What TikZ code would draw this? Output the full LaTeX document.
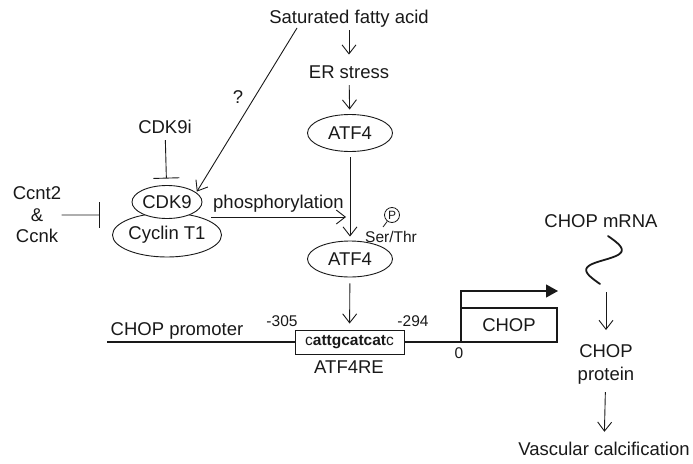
\documentclass[tikz,border=0pt]{standalone}
\usepackage{fontspec}
\setmainfont{Liberation Sans}
\usetikzlibrary{arrows.meta,shapes.geometric}
\tikzset{
    txt/.style={inner sep=0pt, font=\fontsize{18.5}{21.5}\selectfont},
    lbl/.style={txt, text height=13.5pt, text depth=0pt},
    small/.style={inner sep=0pt, font=\fontsize{15.5}{18}\selectfont},
    prot/.style={ellipse, draw, fill=white, inner sep=0pt, font=\fontsize{18.5}{21.5}\selectfont},
    arr/.style={-{Straight Barb[length=9pt,width=14pt,line width=0.9pt]}},
    inhib/.style={-{Bar[width=26pt]}}}

\begin{document}
\begin{tikzpicture}[x=1pt, y=-1pt, line width=0.9pt, black!90]
        \useasboundingbox (0,0) rectangle (693,463);

            % upper pathway
            \node[lbl] (sfa) at (349,17) {Saturated fatty acid};
            \node[lbl] (ers) at (349,72) {ER stress};
            \node[prot, minimum width=85pt, minimum height=37pt] (atfa) at (350,133) {ATF4};
            \node[prot, minimum width=85pt, minimum height=36pt] (atfb) at (350,259) {ATF4};

            % CDK9 complex and inhibitors
            \node[lbl] (cdki) at (165,127) {CDK9i};
            \node[prot, minimum width=107pt, minimum height=44pt] (cyc) at (167,235) {Cyclin T1};
            \node[prot, minimum width=70pt, minimum height=33pt] (cdk) at (167,202) {CDK9};
            \node[txt, align=center, anchor=north] (ccn) at (37,186.5) {Ccnt2\\\&\\Ccnk};
            \coordinate (ccnbar) at (100,215);
            \node[lbl] (q) at (238,97) {?};
            \coordinate (qs) at (297,28);
            \coordinate (phs) at (211,217);
            \coordinate (phe) at (346,217);

            % phospho site
            \node[circle, draw, line width=0.8pt, inner sep=0pt, minimum size=15pt, font=\fontsize{12}{12}\selectfont] (pc) at (392,215) {P};
            \coordinate (pt) at (383,227);
            \node[small] (st) at (391,237) {Ser/Thr};

            % promoter
            \node[draw, fill=white, minimum width=109pt, minimum height=24pt, small] (re) at (349.5,342) {c\textbf{attgcatcat}c};
            \node[lbl] (atfre) at (349,367) {ATF4RE};
            \node[small] (m305) at (282,321) {-305};
            \node[small] (m294) at (413,321) {-294};
            \coordinate (pl) at (107,342);
            \node[lbl] (cp) at (177,329) {CHOP promoter};
            \node[draw, line width=2.5pt, outer sep=0pt, minimum width=96pt, minimum height=34pt, txt] (chop) at (509,325) {CHOP};
            \coordinate (tss) at (461,291);
            \coordinate (tsse) at (558,291);
            \node[small] (zero) at (459,353) {0};

            % right column
            \node[lbl] (mrna) at (601,221) {CHOP mRNA};
            \coordinate (mrs) at (606,292);
            \node[txt, align=center, anchor=north, font=\fontsize{18.5}{23.5}\selectfont] (cprot) at (606,344) {CHOP\\protein};
            \node[lbl] (vc) at (604,449) {Vascular calcification};

            \draw[arr, shorten <=6.25pt, shorten >=10.25pt] (sfa) -- (ers);
            \draw[arr, shorten <=6pt, shorten >=4.5pt] (ers) -- (atfa);
            \draw[arr, shorten <=5.5pt, shorten >=4pt] (atfa) -- (atfb);
            \draw[arr, shorten <=6pt, shorten >=6pt] (atfb) -- (re);
            \draw[inhib, shorten <=6pt, shorten >=6.5pt] (cdki) -- (cdk);
            \draw[inhib] (ccn) -- (ccnbar);
            \draw[arr, shorten >=1pt] (qs) -- (cdk.18);
            \draw[arr] (phs) -- (phe) node[lbl, midway, above=8pt] {phosphorylation};
            \draw[line width=0.8pt] (pc) -- (pt);

            \draw[line width=2pt] (pl) -- (re.west);
            \draw[line width=2pt] (re.east) -- (chop.south west);
            \draw[line width=1.2pt, -{Triangle[length=12pt,width=13pt]}] (chop.south west) -- (tss) -- (tsse);

            \draw[line width=1.8pt, line cap=round] plot[domain=0:1, samples=50, smooth] ({600+8*\x-16*sin(360*\x)*0.986}, {284-48*\x-16*sin(360*\x)*0.164});
            \draw[arr, shorten >=14pt] (mrs) -- (cprot);
            \draw[arr, shorten <=7pt, shorten >=10pt] (cprot) -- (vc);

        \end{tikzpicture}
\end{document}
